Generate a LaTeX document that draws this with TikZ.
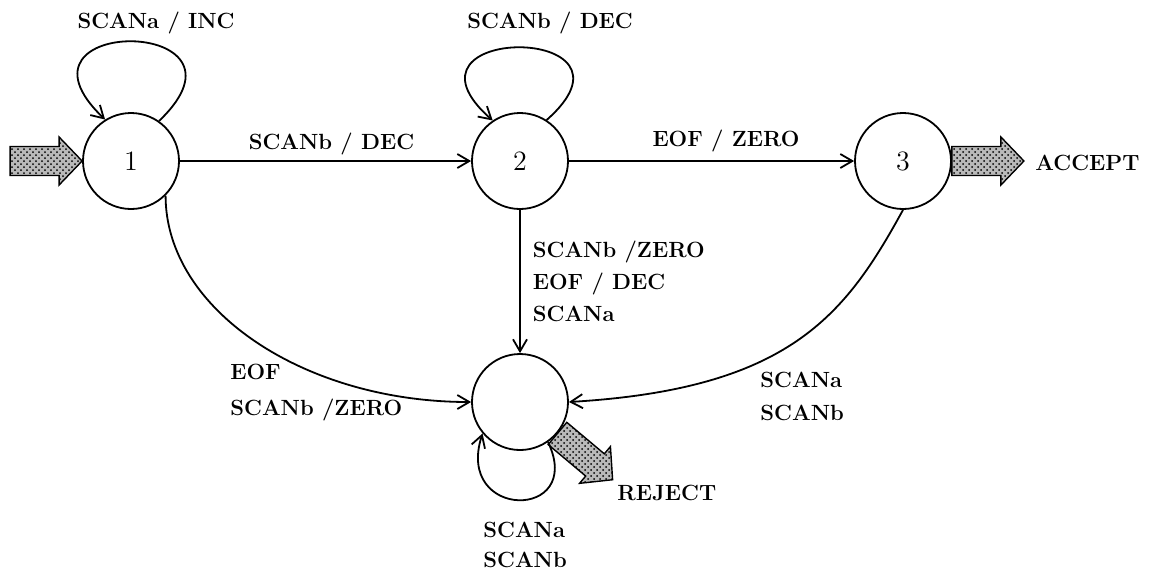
\documentclass[tikz,border=0pt]{standalone}
\usetikzlibrary{arrows.meta,calc,patterns}
\begin{document}
\begin{tikzpicture}[x=0.5pt,y=-0.5pt,
  state/.style={draw,circle,minimum size=48pt,inner sep=0pt,line width=0.9pt,
    font=\fontsize{14}{16}\selectfont},
  edge/.style={line width=0.9pt,-{Straight Barb[length=6pt,width=7pt]}},
  lbl/.style={font=\fontsize{11}{16}\selectfont\bfseries,inner sep=0pt},
  fat/.style={draw,line width=0.7pt,preaction={fill=gray!55},
    pattern=crosshatch dots,pattern color=black},
  fatarrow/.pic={\draw[fat] (0,-14.5) -- (49,-14.5) -- (49,-24) -- (72,0)
    -- (49,24) -- (49,14.5) -- (0,14.5) -- cycle;}
]
\useasboundingbox (0,0) rectangle (1165,569);

% states
\node[state] (n1) at (131,161) {1};
\node[state] (n2) at (520,161) {2};
\node[state] (n3) at (903,161) {3};
\node[state] (n4) at (520,402) {};

% start, accept and reject markers
\path ($(n1.west)+(-72,0)$) pic{fatarrow};
\path (n3.east) pic{fatarrow};
\path (n4.-40) pic[rotate=-40]{fatarrow};
\node[lbl,anchor=west] (acc) at ($(n3.center)+(132,2)$) {ACCEPT};
\node[lbl,anchor=west] (rej) at ($(n4.center)+(97,91)$) {REJECT};

% self loops
\draw[edge] (n1.55) .. controls +(110,-105) and +(-110,-105) .. (n1.122)
  node[lbl,pos=.5,anchor=base,xshift=12pt,yshift=6.4pt] {SCANa / INC};
\draw[edge] (n2.57) .. controls +(110,-97) and +(-110,-97) .. (n2.124)
  node[lbl,pos=.5,anchor=base,xshift=15.25pt,yshift=9.25pt] {SCANb / DEC};
\draw[edge] (n4.-55) .. controls +(37.5,78.7) and +(-28.2,87.1) .. (n4.-140);
\node[lbl,anchor=west,align=left] (l44) at ($(n4.center)+(-37,143)$) {SCANa\\[-1pt]SCANb};

% transitions
\draw[edge] (n1) -- (n2)
  node[lbl,midway,anchor=base,xshift=3pt,yshift=5.75pt] {SCANb / DEC};
\draw[edge] (n2) -- (n3)
  node[lbl,midway,anchor=base,xshift=7.25pt,yshift=7.25pt] {EOF / ZERO};
\draw[edge] (n2) -- (n4)
  node[lbl,midway,anchor=west,align=left,xshift=6pt] {SCANb /ZERO\\EOF / DEC\\SCANa};
\draw[edge] (n1.-45) .. controls +(0,114) and +(-167,0) .. (n4.west);
\node[lbl,anchor=west,align=left] (l14) at ($(n4.center)+(-290,-9.3)$) {EOF\\[2pt]SCANb /ZERO};
\draw[edge] (n3.south) .. controls +(-58,106) and +(220,-13) .. (n4.east);
\node[lbl,anchor=west,align=left] (l34) at ($(n4.center)+(240,-5.5)$) {SCANa\\[0.5pt]SCANb};
\end{tikzpicture}
\end{document}
